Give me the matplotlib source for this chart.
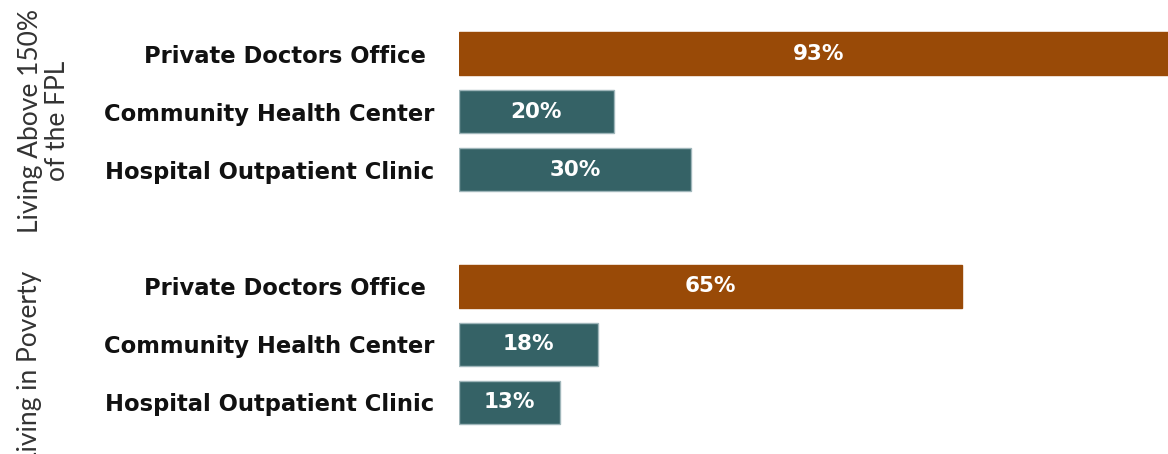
import matplotlib
matplotlib.use("Agg")
import matplotlib.pyplot as plt

categories = ["Private Doctors Office ", "Community Health Center", "Hospital Outpatient Clinic"]
above_fpl = [93, 20, 30]
poverty = [65, 18, 13]
group_labels = ["Living Above 150%\nof the FPL", "Living in Poverty"]

orange = "#994A07"
teal = "#356266"
colors = [orange, teal, teal]

plt.rcParams['font.family'] = ['DejaVu Sans']

fig = plt.figure(figsize=(11.68, 4.54), dpi=100)
ax = fig.add_axes([459/1168, 0, 1 - 459/1168, 1])

positions = [0, 1, 2, 4, 5, 6]
values = above_fpl + poverty
labels = categories + categories
cols = colors + colors

for p, v, c in zip(positions, values, cols):
    ec = c if c == orange else "#9fb6ba"
    ax.barh(p, v, height=0.74, color=c, edgecolor=ec, linewidth=1)
    ax.text(v / 2, p, f"{v}%", ha="center", va="center", color="white",
            fontsize=15.5, fontweight="bold")

ax.set_xlim(0, 91.6)
ax.set_ylim(6.888, -0.922)
ax.set_yticks(positions)
ax.set_yticklabels(labels, fontsize=16.3, fontweight="bold", color="#111111")
ax.tick_params(axis="y", length=0, pad=18)
ax.tick_params(axis="x", bottom=False, labelbottom=False)
for s in ax.spines.values():
    s.set_visible(False)

fig.text(44/1168, 1 - 121/454, group_labels[0], rotation=90, ha="center", va="center",
         fontsize=19, fontfamily="Lato", fontweight="normal", color="#333333", linespacing=1.1)
fig.text(30/1168, 1 - 368/454, group_labels[1], rotation=90, ha="center", va="center",
         fontsize=19, fontfamily="Lato", fontweight="normal", color="#333333")

fig.savefig("out.png", dpi=100)
